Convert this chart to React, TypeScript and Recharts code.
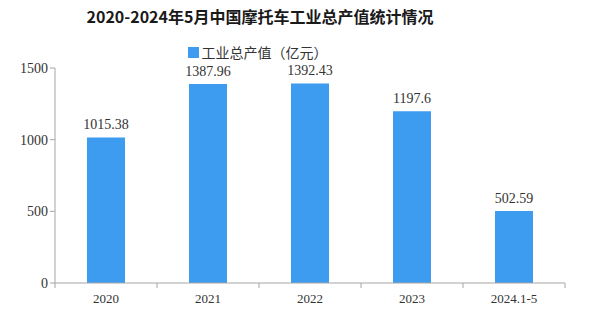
import React from 'react';
import { BarChart, Bar, XAxis, YAxis, Legend, LabelList } from 'recharts';

const years = ['2020', '2021', '2022', '2023', '2024.1-5'];
const outputValues = [1015.38, 1387.96, 1392.43, 1197.6, 502.59];
const yTicks = [0, 500, 1000, 1500];

const data = years.map((year, i) => ({ year, value: outputValues[i] }));

const FONT = '"Liberation Serif", "Noto Sans CJK SC", serif';
const BAR_COLOR = '#3d9bf0';
const AXIS_COLOR = '#a6a6a6';

// category ticks sit between the bars, not under them
const XTick = (props: any) => {
  const { x, y, payload, index } = props;
  const half = 51;
  return (
    <g>
      <line x1={x - half} y1={y - 8} x2={x - half} y2={y - 3} stroke={AXIS_COLOR} />
      {index === years.length - 1 && (
        <line x1={x + half} y1={y - 8} x2={x + half} y2={y - 3} stroke={AXIS_COLOR} />
      )}
      <text x={x} y={y + 12} textAnchor="middle" fill="#333" fontSize={13} fontFamily={FONT}>
        {payload.value}
      </text>
    </g>
  );
};

const LegendContent = () => (
  <div style={{ display: 'flex', justifyContent: 'center', alignItems: 'center', height: 20, fontFamily: '"Noto Sans CJK SC", sans-serif', fontSize: 14, color: '#333', marginLeft: -50 }}>
    <span style={{ width: 11, height: 11, background: BAR_COLOR, display: 'inline-block', marginRight: 3 }} />
    工业总产值（亿元）
  </div>
);

export default function App() {
  return (
    <div style={{ position: 'absolute', left: 0, top: 0, width: 594, height: 313, background: '#fff' }}>
      <div
        style={{
          position: 'absolute',
          top: 4,
          left: 0,
          width: 520,
          textAlign: 'center',
          fontFamily: '"Noto Sans CJK SC", sans-serif',
          fontWeight: 'bold',
          fontSize: 16,
          color: '#1a1a1a',
        }}
      >
        2020-2024年5月中国摩托车工业总产值统计情况
      </div>
      <BarChart width={594} height={313} data={data} margin={{ top: 48, right: 29, bottom: 0, left: 0 }} barSize={38}>
        <Legend verticalAlign="top" height={20} content={<LegendContent />} wrapperStyle={{ top: 42 }} />
        <YAxis
          domain={[0, 1500]}
          ticks={yTicks}
          width={55}
          axisLine={{ stroke: AXIS_COLOR }}
          tickLine={{ stroke: AXIS_COLOR }}
          tickSize={5}
          tick={{ fill: '#333', fontSize: 14, fontFamily: FONT }}
        />
        <XAxis
          dataKey="year"
          height={30}
          axisLine={{ stroke: AXIS_COLOR }}
          tickLine={false}
          tick={<XTick />}
        />
        <Bar dataKey="value" fill={BAR_COLOR} isAnimationActive={false}>
          <LabelList dataKey="value" position="top" offset={8} fill="#333" fontSize={14} fontFamily={FONT} />
        </Bar>
      </BarChart>
    </div>
  );
}
